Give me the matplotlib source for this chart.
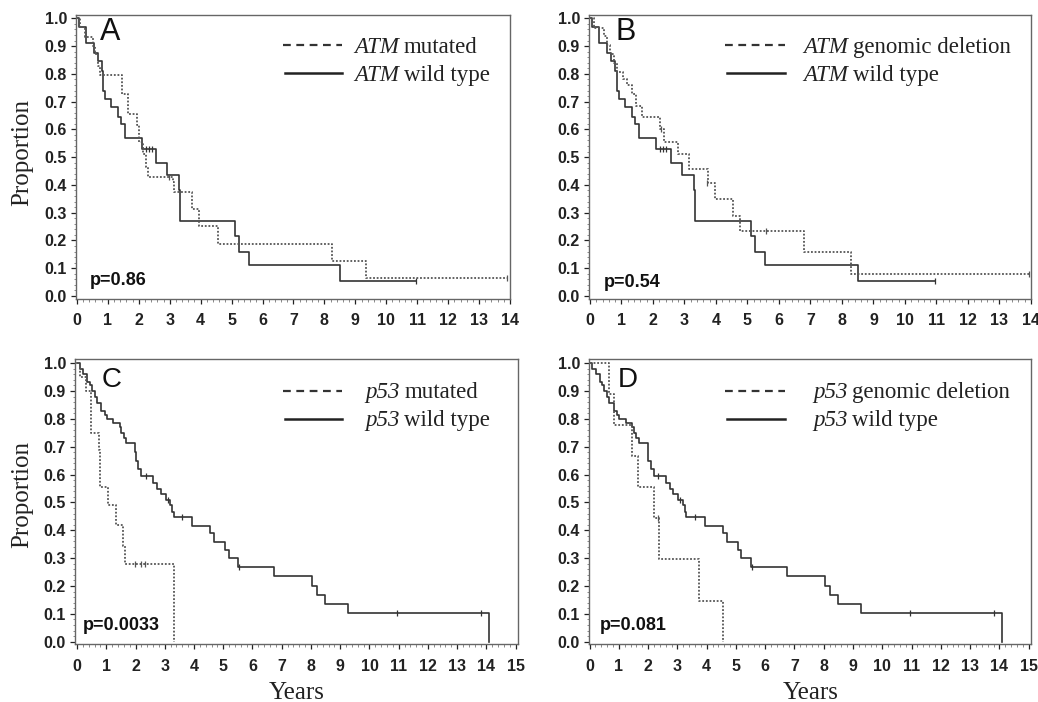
import numpy as np
import matplotlib
matplotlib.use("Agg")
import matplotlib.pyplot as plt
from matplotlib.ticker import MultipleLocator
from matplotlib.lines import Line2D

plt.rcParams['font.family'] = ['Liberation Sans', 'DejaVu Sans']

# ---------------- data ----------------
atm_wt_t = [0, 0.08, 0.29, 0.55, 0.68, 0.80, 0.85, 0.92, 1.10, 1.33, 1.43, 1.56, 2.10, 2.57, 2.92,
            3.30, 3.34, 5.10, 5.25, 5.56, 8.52, 10.95]
atm_wt_s = [1.0, 0.97, 0.91, 0.875, 0.845, 0.81, 0.74, 0.71, 0.68, 0.645, 0.62, 0.57, 0.53, 0.48, 0.435,
            0.38, 0.27, 0.215, 0.16, 0.11, 0.055, 0.055]
atm_wt_cens_t = [2.22, 2.32, 2.42, 10.95]
atm_wt_cens_s = [0.53, 0.53, 0.53, 0.055]

atm_mut_t = [0, 0.09, 0.25, 0.52, 0.57, 0.68, 0.73, 1.46, 1.65, 1.94, 2.02, 2.13, 2.22, 2.29, 3.10,
             3.15, 3.71, 3.94, 4.55, 8.26, 9.33, 13.9]
atm_mut_s = [1.0, 0.97, 0.934, 0.90, 0.87, 0.83, 0.795, 0.727, 0.655, 0.615, 0.556, 0.51, 0.465, 0.427,
             0.41, 0.376, 0.312, 0.252, 0.187, 0.126, 0.064, 0.064]
atm_mut_cens_t = [2.97, 13.9]
atm_mut_cens_s = [0.427, 0.064]

atm_del_t = [0, 0.12, 0.44, 0.55, 0.63, 0.76, 0.87, 1.06, 1.19, 1.35, 1.46, 1.66, 2.22, 2.35, 2.81,
             3.15, 3.75, 3.96, 4.55, 4.76, 6.81, 8.28, 13.95]
atm_del_s = [1.0, 0.965, 0.935, 0.905, 0.87, 0.84, 0.805, 0.78, 0.76, 0.727, 0.685, 0.645, 0.60, 0.556,
             0.511, 0.456, 0.408, 0.348, 0.288, 0.235, 0.157, 0.079, 0.079]
atm_del_cens_t = [2.27, 3.72, 5.58, 13.95]
atm_del_cens_s = [0.60, 0.408, 0.235, 0.079]

p53_wt_t = [0, 0.09, 0.21, 0.35, 0.44, 0.50, 0.61, 0.67, 0.83, 0.95, 1.01, 1.24, 1.46, 1.52, 1.60, 1.69,
            1.98, 2.01, 2.09, 2.20, 2.60, 2.74, 2.86, 3.03, 3.18, 3.26, 3.31, 3.94, 4.55, 4.69, 5.06,
            5.18, 5.52, 6.74, 8.03, 8.21, 8.49, 9.27, 14.09]
p53_wt_s = [1.0, 0.98, 0.96, 0.934, 0.92, 0.90, 0.88, 0.856, 0.83, 0.814, 0.80, 0.785, 0.77, 0.75, 0.73,
            0.713, 0.68, 0.65, 0.62, 0.595, 0.571, 0.55, 0.53, 0.51, 0.49, 0.465, 0.447, 0.417, 0.389,
            0.359, 0.329, 0.30, 0.267, 0.236, 0.201, 0.168, 0.135, 0.102, 0.0]
p53_wt_cens_t = [2.35, 3.10, 3.60, 5.55, 10.95, 13.8]
p53_wt_cens_s = [0.595, 0.51, 0.447, 0.267, 0.102, 0.102]

p53_mut_t = [0, 0.09, 0.30, 0.49, 0.75, 0.78, 0.80, 1.06, 1.33, 1.58, 1.63, 3.31]
p53_mut_s = [1.0, 0.95, 0.90, 0.75, 0.69, 0.62, 0.555, 0.49, 0.42, 0.345, 0.278, 0.0]
p53_mut_cens_t = [1.98, 2.20, 2.32]
p53_mut_cens_s = [0.278, 0.278, 0.278]

p53_del_t = [0, 0.66, 0.83, 1.44, 1.67, 2.21, 2.38, 3.75, 4.55]
p53_del_s = [1.0, 0.889, 0.778, 0.667, 0.556, 0.444, 0.296, 0.148, 0.0]
p53_del_cens_t = [2.33]
p53_del_cens_s = [0.444]

panel_letters = ['A', 'B', 'C', 'D']
p_values = ['p=0.86', 'p=0.54', 'p=0.0033', 'p=0.081']
genes = ['ATM', 'ATM', 'p53', 'p53']
alt_labels = ['mutated', 'genomic deletion', 'mutated', 'genomic deletion']
wt_label = 'wild type'
y_ticks = [0.0, 0.1, 0.2, 0.3, 0.4, 0.5, 0.6, 0.7, 0.8, 0.9, 1.0]
x_max_tick = [14, 14, 15, 15]

# ---------------- figure ----------------
W, H = 1038, 702
fig = plt.figure(figsize=(W / 100, H / 100), dpi=100)

def fx(x):
    return x / W

def fy(y):
    return 1 - y / H

boxes = [(76, 15, 510, 299), (589, 15, 1031, 299), (75, 359, 518, 644), (589, 359, 1031, 644)]
xlims = [(-0.03, 14.0), (-0.03, 14.0), (-0.07, 15.08), (-0.02, 15.08)]
ylims = [(-0.011, 1.012), (-0.011, 1.012), (-0.008, 1.015), (-0.008, 1.015)]

curves = [
    ((atm_mut_t, atm_mut_s, atm_mut_cens_t, atm_mut_cens_s), (atm_wt_t, atm_wt_s, atm_wt_cens_t, atm_wt_cens_s)),
    ((atm_del_t, atm_del_s, atm_del_cens_t, atm_del_cens_s), (atm_wt_t, atm_wt_s, atm_wt_cens_t, atm_wt_cens_s)),
    ((p53_mut_t, p53_mut_s, p53_mut_cens_t, p53_mut_cens_s), (p53_wt_t, p53_wt_s, p53_wt_cens_t, p53_wt_cens_s)),
    ((p53_del_t, p53_del_s, p53_del_cens_t, p53_del_cens_s), (p53_wt_t, p53_wt_s, p53_wt_cens_t, p53_wt_cens_s)),
]

solid_col = '#333333'
dot_col = '#555555'

for i, (l, t, r, b) in enumerate(boxes):
    ax = fig.add_axes([fx(l), fy(b), fx(r - l), (b - t) / H])
    ax.set_xlim(*xlims[i])
    ax.set_ylim(*ylims[i])
    alt, wt = curves[i]
    ax.step(wt[0], wt[1], where='post', color=solid_col, lw=1.2)
    ax.plot(wt[2], wt[3], ls='none', marker='|', ms=5, mew=0.9, color=solid_col)
    ax.step(alt[0], alt[1], where='post', color=dot_col, lw=1.3, ls=(0, (1, 1)))
    ax.plot(alt[2], alt[3], ls='none', marker='|', ms=5, mew=0.9, color=dot_col)

    ax.set_xticks(range(0, x_max_tick[i] + 1))
    ax.set_yticks(y_ticks)
    ax.set_yticklabels([f"{v:.1f}" for v in y_ticks])
    ax.xaxis.set_minor_locator(MultipleLocator(0.2))
    ax.yaxis.set_minor_locator(MultipleLocator(0.02))
    xpad = 6.5 if i < 2 else 7.5
    ax.tick_params(axis='x', which='major', direction='out', length=3.5, width=0.9,
                   pad=xpad, labelsize=11.5, colors='#222222')
    ax.tick_params(axis='y', which='major', direction='out', length=3.5, width=0.9,
                   pad=3, labelsize=11.5, colors='#222222')
    ax.tick_params(axis='both', which='minor', direction='out', length=1.8, width=0.6, colors='#777777')
    ax.tick_params(top=False, right=False, which='both')
    for lab in ax.get_xticklabels() + ax.get_yticklabels():
        lab.set_fontweight('bold')
    for sp in ax.spines.values():
        sp.set_color('#666666')
        sp.set_linewidth(1.0)

letter_pos = [(100, 40, 22), (616, 40, 22), (102, 387, 20), (618, 387, 20)]
for i, (x, y, s) in enumerate(letter_pos):
    fig.text(fx(x), fy(y), panel_letters[i], fontsize=s, ha='left', va='baseline',
             color='#111111', family='Liberation Sans')

p_pos = [(90, 285), (604, 287), (83, 630), (600, 630)]
for i, (x, y) in enumerate(p_pos):
    fig.text(fx(x), fy(y), p_values[i], fontsize=13, fontweight='bold', ha='left', va='baseline',
             color='#111111')

leg = [
    (283, 342, 45, 73, 354, 53, 81),
    (725, 785, 45, 73, 803, 53, 81),
    (283, 342, 391, 419, 365, 398, 426),
    (725, 785, 391, 419, 813, 398, 426),
]
renderer = fig.canvas.get_renderer()


def two_part(x, y, gene, rest):
    t1 = fig.text(fx(x), fy(y), gene, fontsize=16.5, family='Liberation Serif', style='italic',
                  ha='left', va='baseline', color='#222222')
    bb = t1.get_window_extent(renderer=renderer)
    fig.text(fx(x + bb.width + 5), fy(y), rest, fontsize=16.5, family='Liberation Serif',
             ha='left', va='baseline', color='#222222')


for i, (x0, x1, y1, y2, tx, b1, b2) in enumerate(leg):
    fig.add_artist(Line2D([fx(x0), fx(x1)], [fy(y1), fy(y1)], transform=fig.transFigure,
                          color='#333333', lw=1.6, ls=(0, (3.5, 2.5))))
    fig.add_artist(Line2D([fx(x0 + 2), fx(x1)], [fy(y2), fy(y2)], transform=fig.transFigure,
                          color='#222222', lw=1.8))
    two_part(tx, b1, genes[i], alt_labels[i])
    two_part(tx, b2, genes[i], wt_label)

for yc in (152, 495):
    fig.text(fx(22), fy(yc), 'Proportion', rotation=90, fontsize=18, family='Liberation Serif',
             ha='center', va='center', color='#222222')
for xc in (297, 811):
    fig.text(fx(xc), fy(699), 'Years', fontsize=18, family='Liberation Serif',
             ha='center', va='baseline', color='#222222')

fig.savefig('out.png', dpi=100)
